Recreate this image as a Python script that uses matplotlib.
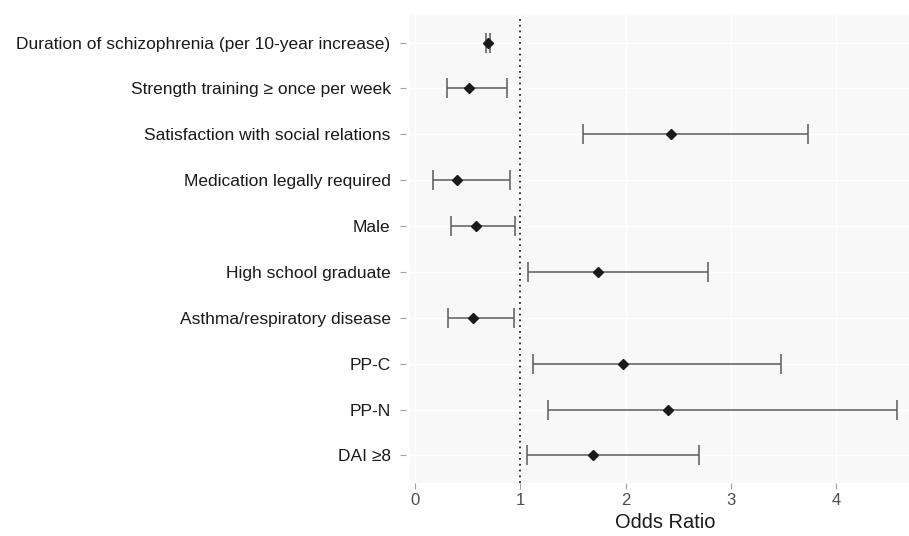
import numpy as np
import matplotlib.pyplot as plt

plt.rcParams['font.family'] = ['Liberation Sans', 'DejaVu Sans']

# variables, top to bottom
labels = ['Duration of schizophrenia (per 10-year increase)',
          'Strength training \u2265 once per week',
          'Satisfaction with social relations',
          'Medication legally required',
          'Male',
          'High school graduate',
          'Asthma/respiratory disease',
          'PP-C',
          'PP-N',
          'DAI \u22658']
odds = [0.694, 0.513, 2.432, 0.396, 0.576, 1.736, 0.554, 1.973, 2.401, 1.691]
lower = [0.675, 0.300, 1.593, 0.174, 0.345, 1.074, 0.314, 1.124, 1.264, 1.064]
upper = [0.710, 0.874, 3.734, 0.903, 0.953, 2.784, 0.944, 3.474, 4.577, 2.695]
xticks = [0, 1, 2, 3, 4]

odds = np.array(odds)
lower = np.array(lower)
upper = np.array(upper)
ypos = np.arange(len(labels))[::-1] + 1

fig = plt.figure(figsize=(9.09, 5.36), dpi=100)
ax = fig.add_axes([410/909, 53/536, 510/909, 468/536])
ax.set_facecolor('#f8f8f8')

ax.errorbar(odds, ypos, xerr=[odds - lower, upper - odds], fmt='none',
            ecolor='#5a5a5a', elinewidth=1.1, capsize=7, capthick=1.1, zorder=3)
ax.plot(odds, ypos, 'D', color='#1a1a1a', ms=4.6, zorder=4)
ax.axvline(1, color='#222222', ls=(0, (1, 2.2)), lw=1.3, zorder=2)

ax.set_xlim(-0.047, 4.797)
ax.set_ylim(0.4, len(labels) + 0.6)
ax.set_xticks(xticks)
ax.set_yticks(ypos)
ax.set_yticklabels(labels)
ax.grid(True, color='white', lw=1.0, zorder=1)
ax.set_axisbelow(True)
for s in ax.spines.values():
    s.set_visible(False)
ax.spines['left'].set_position(('outward', 3))

ax.tick_params(axis='y', length=4, width=0.8, color='#a0a0a0', labelsize=12.5,
               labelcolor='#1a1a1a', pad=7)
ax.tick_params(axis='x', length=4, width=0.8, color='#a0a0a0', labelsize=12,
               labelcolor='#4d4d4d', pad=3)
ax.set_xlabel('Odds Ratio', fontsize=14.4, color='#1a1a1a', labelpad=4)

fig.savefig('out.png', dpi=100)
